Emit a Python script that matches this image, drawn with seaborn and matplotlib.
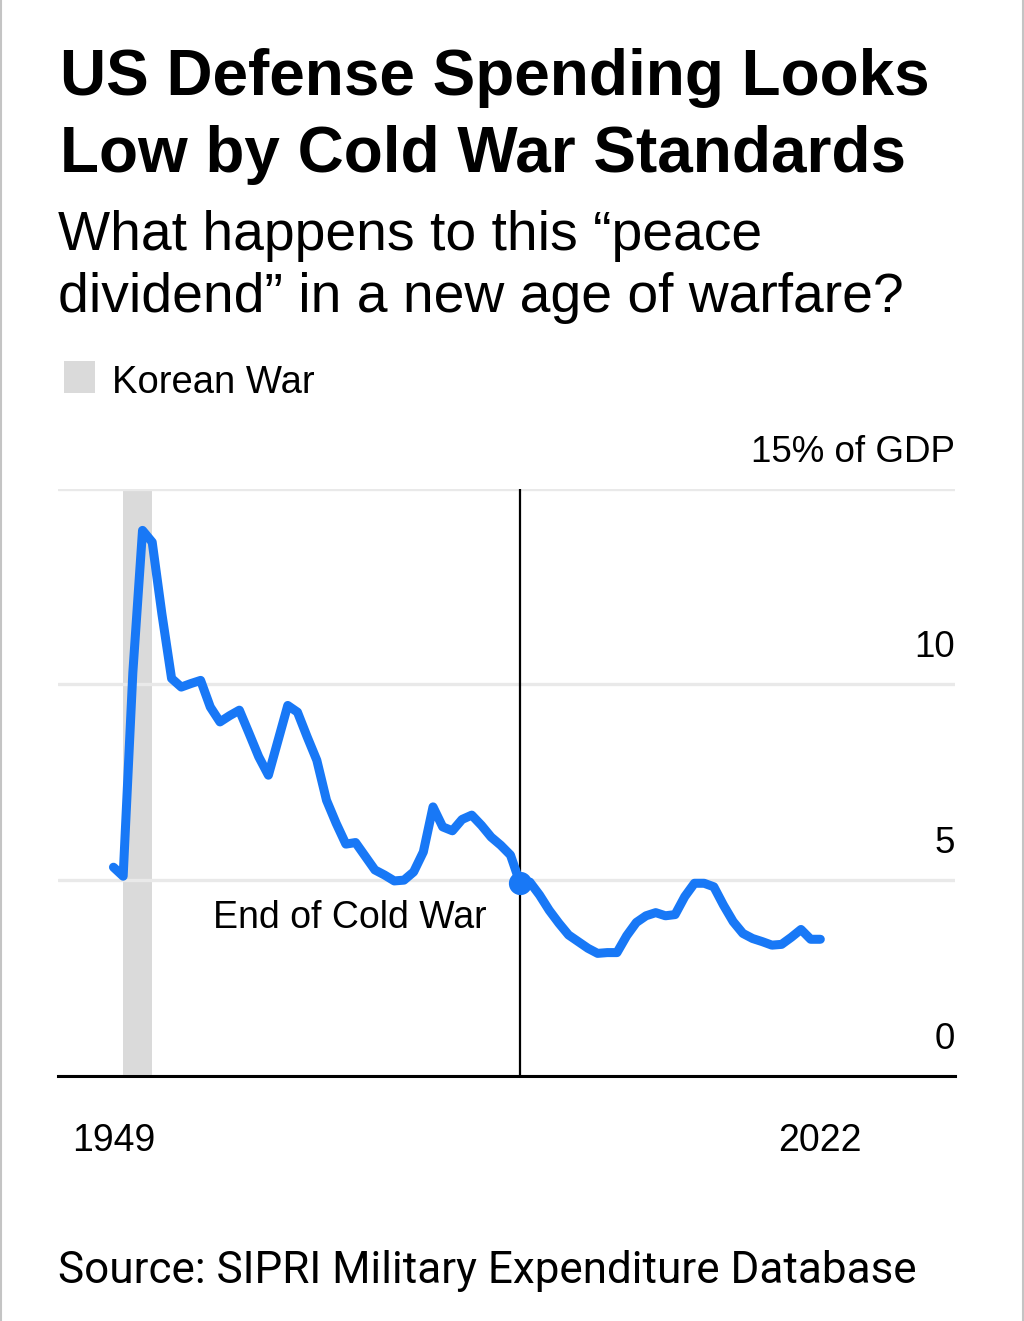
import pandas as pd
import matplotlib
matplotlib.use('Agg')
import matplotlib.pyplot as plt
import matplotlib.transforms as mtransforms
from matplotlib.lines import Line2D
import seaborn as sns

# US military spending, % of GDP
years = list(range(1949, 2023))
spending = [
    5.33, 5.10, 10.3, 13.93, 13.63, 11.8, 10.15, 9.93, 10.02, 10.1,
    9.42, 9.04, 9.2, 9.34, 8.75, 8.15, 7.68, 8.57, 9.46, 9.29,
    8.66, 8.06, 7.04, 6.45, 5.92, 5.96, 5.61, 5.26, 5.13, 4.98,
    5.0, 5.21, 5.72, 6.87, 6.36, 6.26, 6.55, 6.66, 6.40, 6.10,
    5.89, 5.64, 4.92, 4.95, 4.62, 4.23, 3.90, 3.60, 3.43, 3.26,
    3.13, 3.15, 3.15, 3.58, 3.92, 4.09, 4.17, 4.09, 4.12, 4.58,
    4.92, 4.92, 4.83, 4.36, 3.94, 3.64, 3.51, 3.43, 3.34, 3.36,
    3.54, 3.74, 3.49, 3.49,
]
korean_war = (1950, 1953)
cold_war_end = 1991
y_ticks = [0, 5, 10, 15]
y_labels = ["0", "5", "10", "15% of GDP"]
x_ticks = [1949, 2022]

df = pd.DataFrame({"year": years, "pct_gdp": spending})

BLUE = "#1878f6"
GREY_BAND = "#dadada"
GRID = "#e9e9e9"

sns.set_style("white")
plt.rcParams['font.family'] = ['Liberation Sans', 'DejaVu Sans']
plt.rcParams['text.color'] = 'black'
plt.rcParams['xtick.color'] = 'black'
plt.rcParams['ytick.color'] = 'black'

fig = plt.figure(figsize=(10.24, 13.21), dpi=100)
ax = fig.add_axes([0.05625, 0.1855, 0.8763, 0.4447])

ax.axvspan(*korean_war, color=GREY_BAND, lw=0, zorder=0)
sns.lineplot(data=df, x="year", y="pct_gdp", color=BLUE, linewidth=6.5, ax=ax,
             zorder=3, solid_capstyle='round', solid_joinstyle='round', legend=False)
ax.axvline(cold_war_end, color="black", lw=1.6, zorder=2)
dot_val = df.loc[df.year == cold_war_end, "pct_gdp"].iloc[0]
ax.scatter([cold_war_end], [dot_val], s=280, color=BLUE, zorder=4, linewidths=0)
ax.annotate("End of Cold War", xy=(cold_war_end, 3.79), xytext=(-24, 0),
            textcoords="offset points", ha="right", va="baseline", fontsize=27)

ax.set_xlim(1943.23, 2035.9)
ax.set_ylim(0, 15)
ax.set_yticks(y_ticks)
ax.set_yticklabels([])
ax.tick_params(axis='y', length=0)
ax.grid(axis='y', color=GRID, lw=2.4, zorder=1)
ax.grid(axis='x', visible=False)
ax.set_xticks(x_ticks)
ax.set_xticklabels([str(t) for t in x_ticks], fontsize=27)
ax.tick_params(axis='x', length=13, width=2, color='black', pad=21, direction='out')
ax.set_xlabel("")
ax.set_ylabel("")
for s in ["top", "left", "right"]:
    ax.spines[s].set_visible(False)
ax.spines["bottom"].set_color("black")
ax.spines["bottom"].set_linewidth(2.2)
ax.spines["bottom"].set_zorder(5)

# right-hand value labels sitting above the gridlines
trans = mtransforms.blended_transform_factory(ax.transAxes, ax.transData)
for v, lab in zip(y_ticks, y_labels):
    ax.annotate(lab, xy=(1.0, v), xycoords=trans, xytext=(0, 19.4),
                textcoords="offset points", ha="right", va="baseline", fontsize=26.5)

# title, subtitle
H = 1321
fig.text(60 / 1024, 1 - 95 / H, "US Defense Spending Looks", fontsize=46,
         fontweight="bold", va="baseline")
fig.text(60 / 1024, 1 - 171.7 / H, "Low by Cold War Standards", fontsize=46,
         fontweight="bold", va="baseline")
fig.text(58 / 1024, 1 - 250 / H, "What happens to this \u201cpeace", fontsize=39.8,
         va="baseline")
fig.text(58 / 1024, 1 - 311.7 / H, "dividend\u201d in a new age of warfare?",
         fontsize=39.8, va="baseline")

# legend
fig.patches.append(plt.Rectangle((64 / 1024, 1 - 392.7 / H), 31 / 1024, 32 / H,
                                 transform=fig.transFigure, color=GREY_BAND, lw=0))
fig.text(111.7 / 1024, 1 - 393 / H, "Korean War", fontsize=27.5, va="baseline")

# source
fig.text(58 / 1024, 1 - 1283 / H, "Source: SIPRI Military Expenditure Database",
         fontsize=31.7, va="baseline", family=['Roboto', 'DejaVu Sans'])

# thin frame on the sides
for xf in (1 / 1024, 1022.5 / 1024):
    fig.lines.append(Line2D([xf, xf], [0, 1], transform=fig.transFigure,
                            color="#c4c4c4", lw=1.5))

fig.savefig("out.png", dpi=100)
